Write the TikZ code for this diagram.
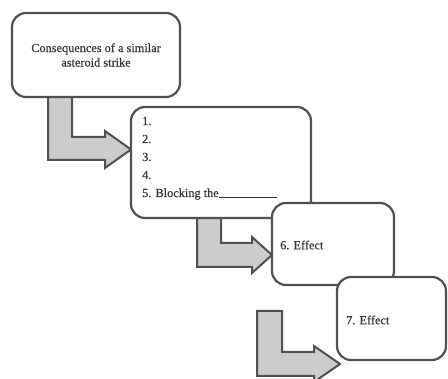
\documentclass[tikz,border=0pt]{standalone}
\usepackage{fontspec}
\setmainfont{Liberation Serif}
\newfontfamily\semifont{Liberation Serif}[FakeBold=0.35]
\definecolor{edge}{HTML}{505050}
\definecolor{txt}{HTML}{333333}
\definecolor{arrowfill}{HTML}{CCCCCC}
\begin{document}
\begin{tikzpicture}[x=1pt,y=-1pt,
  card/.style={draw=edge,line width=2.2pt,fill=white,rounded corners=14pt,inner sep=0pt},
  blockarrow/.style={draw=edge,line width=2pt,fill=arrowfill,line join=miter},
  lbl/.style={text=txt,font=\semifont\fontsize{12.3}{14.5}\selectfont,inner sep=0pt}]
\useasboundingbox (0,0) rectangle (448,379);
\clip (0,0) rectangle (448,379);
% arrows (drawn first, boxes cover their ends)
\draw[blockarrow] (48,95) -- (72,95) -- (72,137) -- (105,137) -- (105,131) -- (131,149.5) -- (105,168) -- (105,160) -- (48,160) -- cycle;
\draw[blockarrow] (197,215) -- (221,215) -- (221,243) -- (252,243) -- (252,237) -- (272,255) -- (252,273) -- (252,267) -- (197,267) -- cycle;
\draw[blockarrow] (257,311) -- (282,311) -- (282,352) -- (314,352) -- (314,346) -- (340,364) -- (314,382) -- (314,376) -- (257,376) -- cycle;
% boxes
\node[card,minimum width=168pt,minimum height=84pt] (b1) at (96,55) {};
\node[lbl,align=center] (t1) at (b1.center) {Consequences of a similar\\asteroid strike};
\node[card,minimum width=180pt,minimum height=111pt] (b2) at (221,162.5) {};
\node[lbl,anchor=base west] (l1) at (142,125) {1.};
\node[lbl,anchor=base west] (l2) at (142,143) {2.};
\node[lbl,anchor=base west] (l3) at (142,161) {3.};
\node[lbl,anchor=base west] (l4) at (142,179) {4.};
\node[lbl,anchor=base west] (l5) at (142,197) {5. Blocking the\rule[-0.5pt]{58pt}{0.6pt}};
\node[card,minimum width=122pt,minimum height=82pt] (b3) at (333,244) {};
\node[lbl,anchor=west] (t3) at (280,245) {6. Effect};
\node[card,minimum width=109pt,minimum height=83pt] (b4) at (391.5,318.5) {};
\node[lbl,anchor=west] (t4) at (346,320) {7. Effect};
\end{tikzpicture}
\end{document}
